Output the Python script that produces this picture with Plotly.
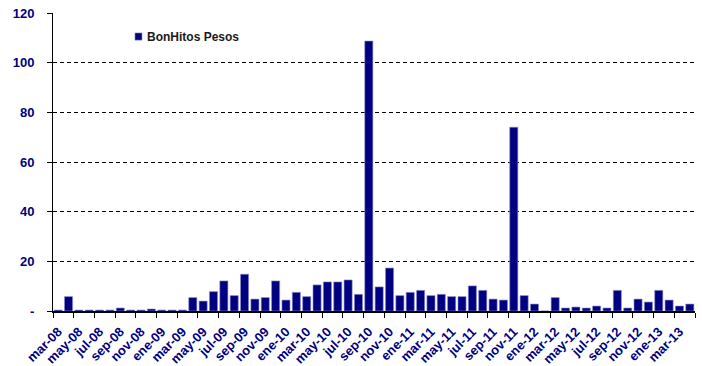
import plotly.graph_objects as go

# Monthly series, mar-08 .. abr-13
months = [
    "mar-08", "abr-08", "may-08", "jun-08", "jul-08", "ago-08", "sep-08", "oct-08", "nov-08", "dic-08",
    "ene-09", "feb-09", "mar-09", "abr-09", "may-09", "jun-09", "jul-09", "ago-09", "sep-09", "oct-09",
    "nov-09", "dic-09", "ene-10", "feb-10", "mar-10", "abr-10", "may-10", "jun-10", "jul-10", "ago-10",
    "sep-10", "oct-10", "nov-10", "dic-10", "ene-11", "feb-11", "mar-11", "abr-11", "may-11", "jun-11",
    "jul-11", "ago-11", "sep-11", "oct-11", "nov-11", "dic-11", "ene-12", "feb-12", "mar-12", "abr-12",
    "may-12", "jun-12", "jul-12", "ago-12", "sep-12", "oct-12", "nov-12", "dic-12", "ene-13", "feb-13",
    "mar-13", "abr-13",
]
bonhitos_pesos = [
    0.4, 5.8, 0.4, 0.4, 0.4, 0.4, 1.2, 0.4, 0.4, 0.8,
    0.4, 0.4, 0.4, 5.4, 4.0, 7.8, 12.1, 6.2, 14.8, 4.8,
    5.4, 12.1, 4.4, 7.5, 5.8, 10.5, 11.7, 11.7, 12.5, 6.7,
    108.7, 9.7, 17.3, 6.2, 7.5, 8.3, 6.2, 6.7, 5.8, 5.8,
    10.1, 8.3, 4.8, 4.4, 74.0, 6.2, 2.8, 0.0, 5.4, 1.2,
    1.6, 1.2, 2.0, 1.2, 8.3, 1.2, 4.8, 3.6, 8.3, 4.4,
    2.0, 2.8,
]
series_name = "BonHitos Pesos"
y_ticks = [0, 20, 40, 60, 80, 100, 120]
y_tick_text = ["-", "20", "40", "60", "80", "100", "120"]

NAVY = "#000080"
FONT = "Liberation Sans, Arial, sans-serif"

idx = list(range(len(months)))
label_pos = idx[::2]
label_text = months[::2]
boundary_ticks = [i - 0.5 for i in label_pos] + [len(months) - 0.5]

fig = go.Figure(
    go.Bar(
        x=idx,
        y=bonhitos_pesos,
        name=series_name,
        marker=dict(color=NAVY, line=dict(color="#8c8cc8", width=0.6)),
        width=0.78,
        showlegend=False,
    )
)

# Legend key: small navy square followed by the series name
fig.add_shape(
    type="rect", xref="paper", yref="paper",
    x0=0.1277, x1=0.1386, y0=0.909, y1=0.933,
    fillcolor=NAVY, line=dict(color="#8c8cc8", width=0.6),
)
fig.add_annotation(
    text=series_name, xref="paper", yref="paper",
    x=0.1433, y=0.921, xanchor="left", yanchor="middle", showarrow=False,
    font=dict(family=FONT, size=12, color="#1a1a1a", weight="bold"),
)

fig.update_layout(
    width=702,
    height=366,
    margin=dict(l=53, r=7, t=13, b=55),
    paper_bgcolor="white",
    plot_bgcolor="white",
    font=dict(family=FONT, color=NAVY, size=12, weight="bold"),
    showlegend=False,
    bargap=0.22,
)

fig.update_xaxes(
    range=[-0.5, len(months) - 0.5],
    automargin=False,
    tickmode="array",
    tickvals=label_pos,
    ticktext=label_text,
    tickangle=-45,
    ticks="",
    ticklabelstandoff=6,
    tickfont=dict(family=FONT, size=13, color=NAVY, weight="bold"),
    showgrid=False,
    zeroline=False,
    showline=True,
    linecolor="black",
    linewidth=2,
    minor=dict(tickmode="array", tickvals=boundary_ticks, ticks="outside",
               ticklen=5, tickcolor="black", tickwidth=1, showgrid=False),
)

fig.update_yaxes(
    range=[0, 120],
    automargin=False,
    tickmode="array",
    tickvals=y_ticks,
    ticktext=y_tick_text,
    ticks="outside",
    ticklen=5,
    tickcolor="black",
    ticklabelstandoff=10,
    tickfont=dict(family=FONT, size=13, color=NAVY, weight="bold"),
    showgrid=True,
    gridcolor="black",
    griddash="4px,3px",
    gridwidth=1,
    zeroline=False,
    showline=True,
    linecolor="black",
    linewidth=1,
)

fig.write_html("out.html")
